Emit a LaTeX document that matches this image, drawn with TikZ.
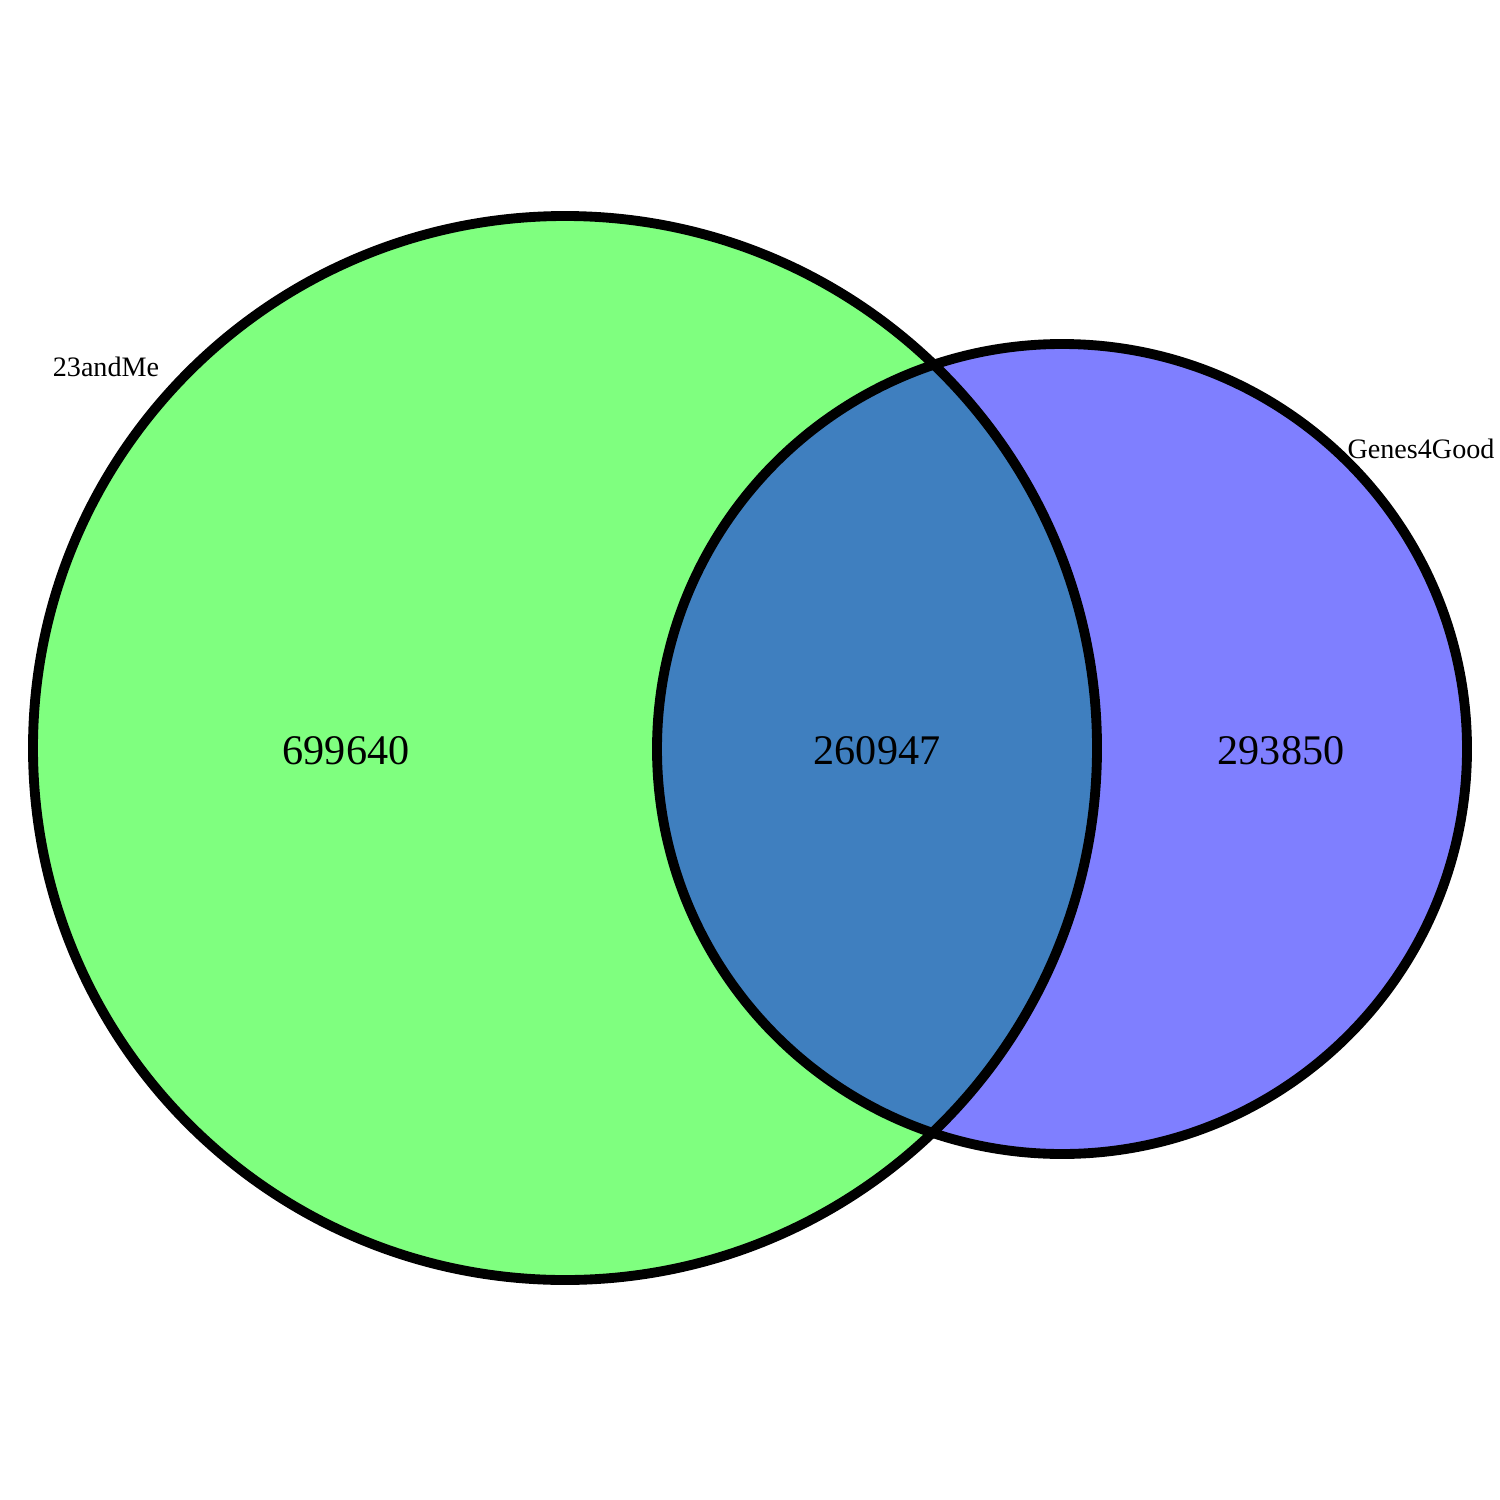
\documentclass[tikz,border=0pt]{standalone}
\usepackage{fontspec}
\setmainfont{Liberation Serif}
\usetikzlibrary{positioning}

\begin{document}
\begin{tikzpicture}[x=0.01cm, y=-0.01cm,
    setfill/.style={fill opacity=0.5, draw=none},
    setline/.style={line width=2.8pt, draw=black},
    count/.style={font=\fontsize{12}{14}\selectfont},
    setname/.style={font=\fontsize{8}{10}\selectfont}]
  \useasboundingbox (0,0) rectangle (1500,1500);
  % sets
  \fill[green, setfill] (565,748) circle (532);
  \fill[blue, setfill] (1062,749) circle (405);
  \draw[setline] (565,748) circle (532);
  \draw[setline] (1062,749) circle (405);
  % counts
  \node[count] (onlyA) at (346,751) {699640};
  \node[count] (both) at (877,751) {260947};
  \node[count] (onlyB) at (1281,751) {293850};
  % names
  \node[setname] (nameA) at (106,367) {23andMe};
  \node[setname] (nameB) at (1421,449) {Genes4Good};
\end{tikzpicture}
\end{document}
